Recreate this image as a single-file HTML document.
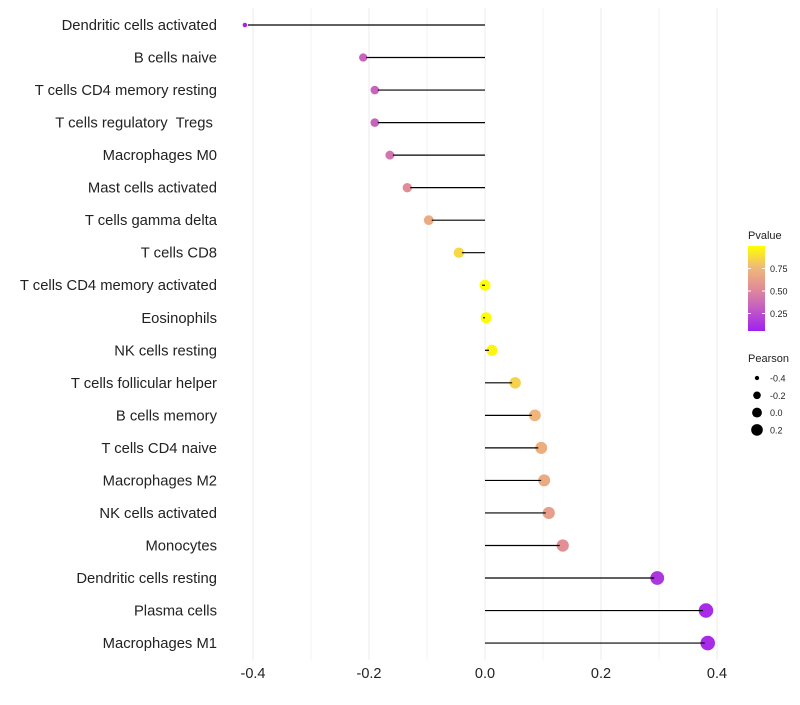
<!DOCTYPE html>
<html><head><meta charset="utf-8"><style>
body{margin:0;background:#fff;font-family:"Liberation Sans",sans-serif}
text{white-space:pre}
</style></head><body>
<svg id="c" width="800" height="700" xmlns="http://www.w3.org/2000/svg" style="font-family:'Liberation Sans',sans-serif"></svg>
<script>
const cells=["Dendritic cells activated","B cells naive","T cells CD4 memory resting","T cells regulatory  Tregs ","Macrophages M0","Mast cells activated","T cells gamma delta","T cells CD8","T cells CD4 memory activated","Eosinophils","NK cells resting","T cells follicular helper","B cells memory","T cells CD4 naive","Macrophages M2","NK cells activated","Monocytes","Dendritic cells resting","Plasma cells","Macrophages M1"];
const pearson=[-0.414,-0.21,-0.19,-0.19,-0.164,-0.134,-0.097,-0.045,0,0.002,0.012,0.052,0.086,0.097,0.102,0.11,0.134,0.297,0.381,0.384];
const pvalue=[0.02,0.3,0.3,0.3,0.38,0.5,0.67,0.86,1.0,0.99,0.96,0.84,0.73,0.69,0.67,0.6,0.52,0.1,0.05,0.05];
const xTicks=[-0.4,-0.2,0,0.2,0.4];
const gridMinor=[-0.3,-0.1,0.1,0.3];
const legP=[0.75,0.5,0.25];
const legR=[-0.4,-0.2,0.0,0.2];
const svg=document.getElementById('c');const NS='http://www.w3.org/2000/svg';
const X=v=>485+v*580, Y=i=>25+i*32.53, R=v=>Math.sqrt(5+60*Math.max(0,v+0.414));
const stops=[[0,[160,32,240]],[0.3,[200,100,190]],[0.5,[225,140,150]],[0.75,[240,185,120]],[1,[255,255,0]]];
function col(p){for(let k=1;k<stops.length;k++){if(p<=stops[k][0]){const a=stops[k-1],b=stops[k],t=(p-a[0])/(b[0]-a[0]);return 'rgb('+a[1].map((c,j)=>Math.round(c+(b[1][j]-c)*t)).join(',')+')';}}return 'rgb(255,255,0)';}
function el(t,a,p){const e=document.createElementNS(NS,t);for(const k in a)e.setAttribute(k,a[k]);(p||svg).appendChild(e);return e;}
gridMinor.concat(xTicks).forEach(v=>{const g=el('line',{x1:X(v),x2:X(v),y1:8,y2:660,stroke:gridMinor.includes(v)?'#f3f3f3':'#ebebeb','stroke-width':1});

});
xTicks.forEach(v=>{const t=el('text',{x:X(v),y:678,'text-anchor':'middle','font-size':14.5,fill:'#222'});t.textContent=v===0?'0.0':v.toFixed(1);

});
cells.forEach((c,i)=>{const y=Y(i);
const t=el('text',{x:217,y:y+5,'text-anchor':'end','font-size':14.8,fill:'#222'});t.textContent=c;


const d=el('circle',{cx:X(pearson[i]),cy:y,r:R(pearson[i]),fill:col(pvalue[i])});


const l=el('line',{x1:X(0),x2:X(pearson[i])+(pearson[i]<0?3:-3),y1:y,y2:y,stroke:'#000','stroke-width':1.2});

});
const lg=el('g',{});
let tt=el('text',{x:748,y:239,'font-size':11,fill:'#222'},lg);tt.textContent='Pvalue';
const defs=el('defs',{});const gr=el('linearGradient',{id:'g',x1:0,y1:1,x2:0,y2:0},defs);
stops.forEach(s=>el('stop',{offset:s[0],'stop-color':col(s[0])},gr));
el('rect',{x:748,y:246,width:17,height:85,fill:'url(#g)'},lg);
const pY=p=>336-p*90;
legP.forEach(p=>{el('line',{x1:748,x2:751,y1:pY(p),y2:pY(p),stroke:'#fff'},lg);el('line',{x1:762,x2:765,y1:pY(p),y2:pY(p),stroke:'#fff'},lg);
const t=el('text',{x:770,y:pY(p)+3.5,'font-size':9,fill:'#222'},lg);t.textContent=p.toFixed(2);});
tt=el('text',{x:748,y:362,'font-size':11,fill:'#222'},lg);tt.textContent='Pearson';
legR.forEach((v,k)=>{const y=378+k*17.3;el('circle',{cx:757,cy:y,r:R(v)*0.9,fill:'#000'},lg);
const t=el('text',{x:770,y:y+3.5,'font-size':9,fill:'#222'},lg);t.textContent=v.toFixed(1);});
</script>
</body></html>
